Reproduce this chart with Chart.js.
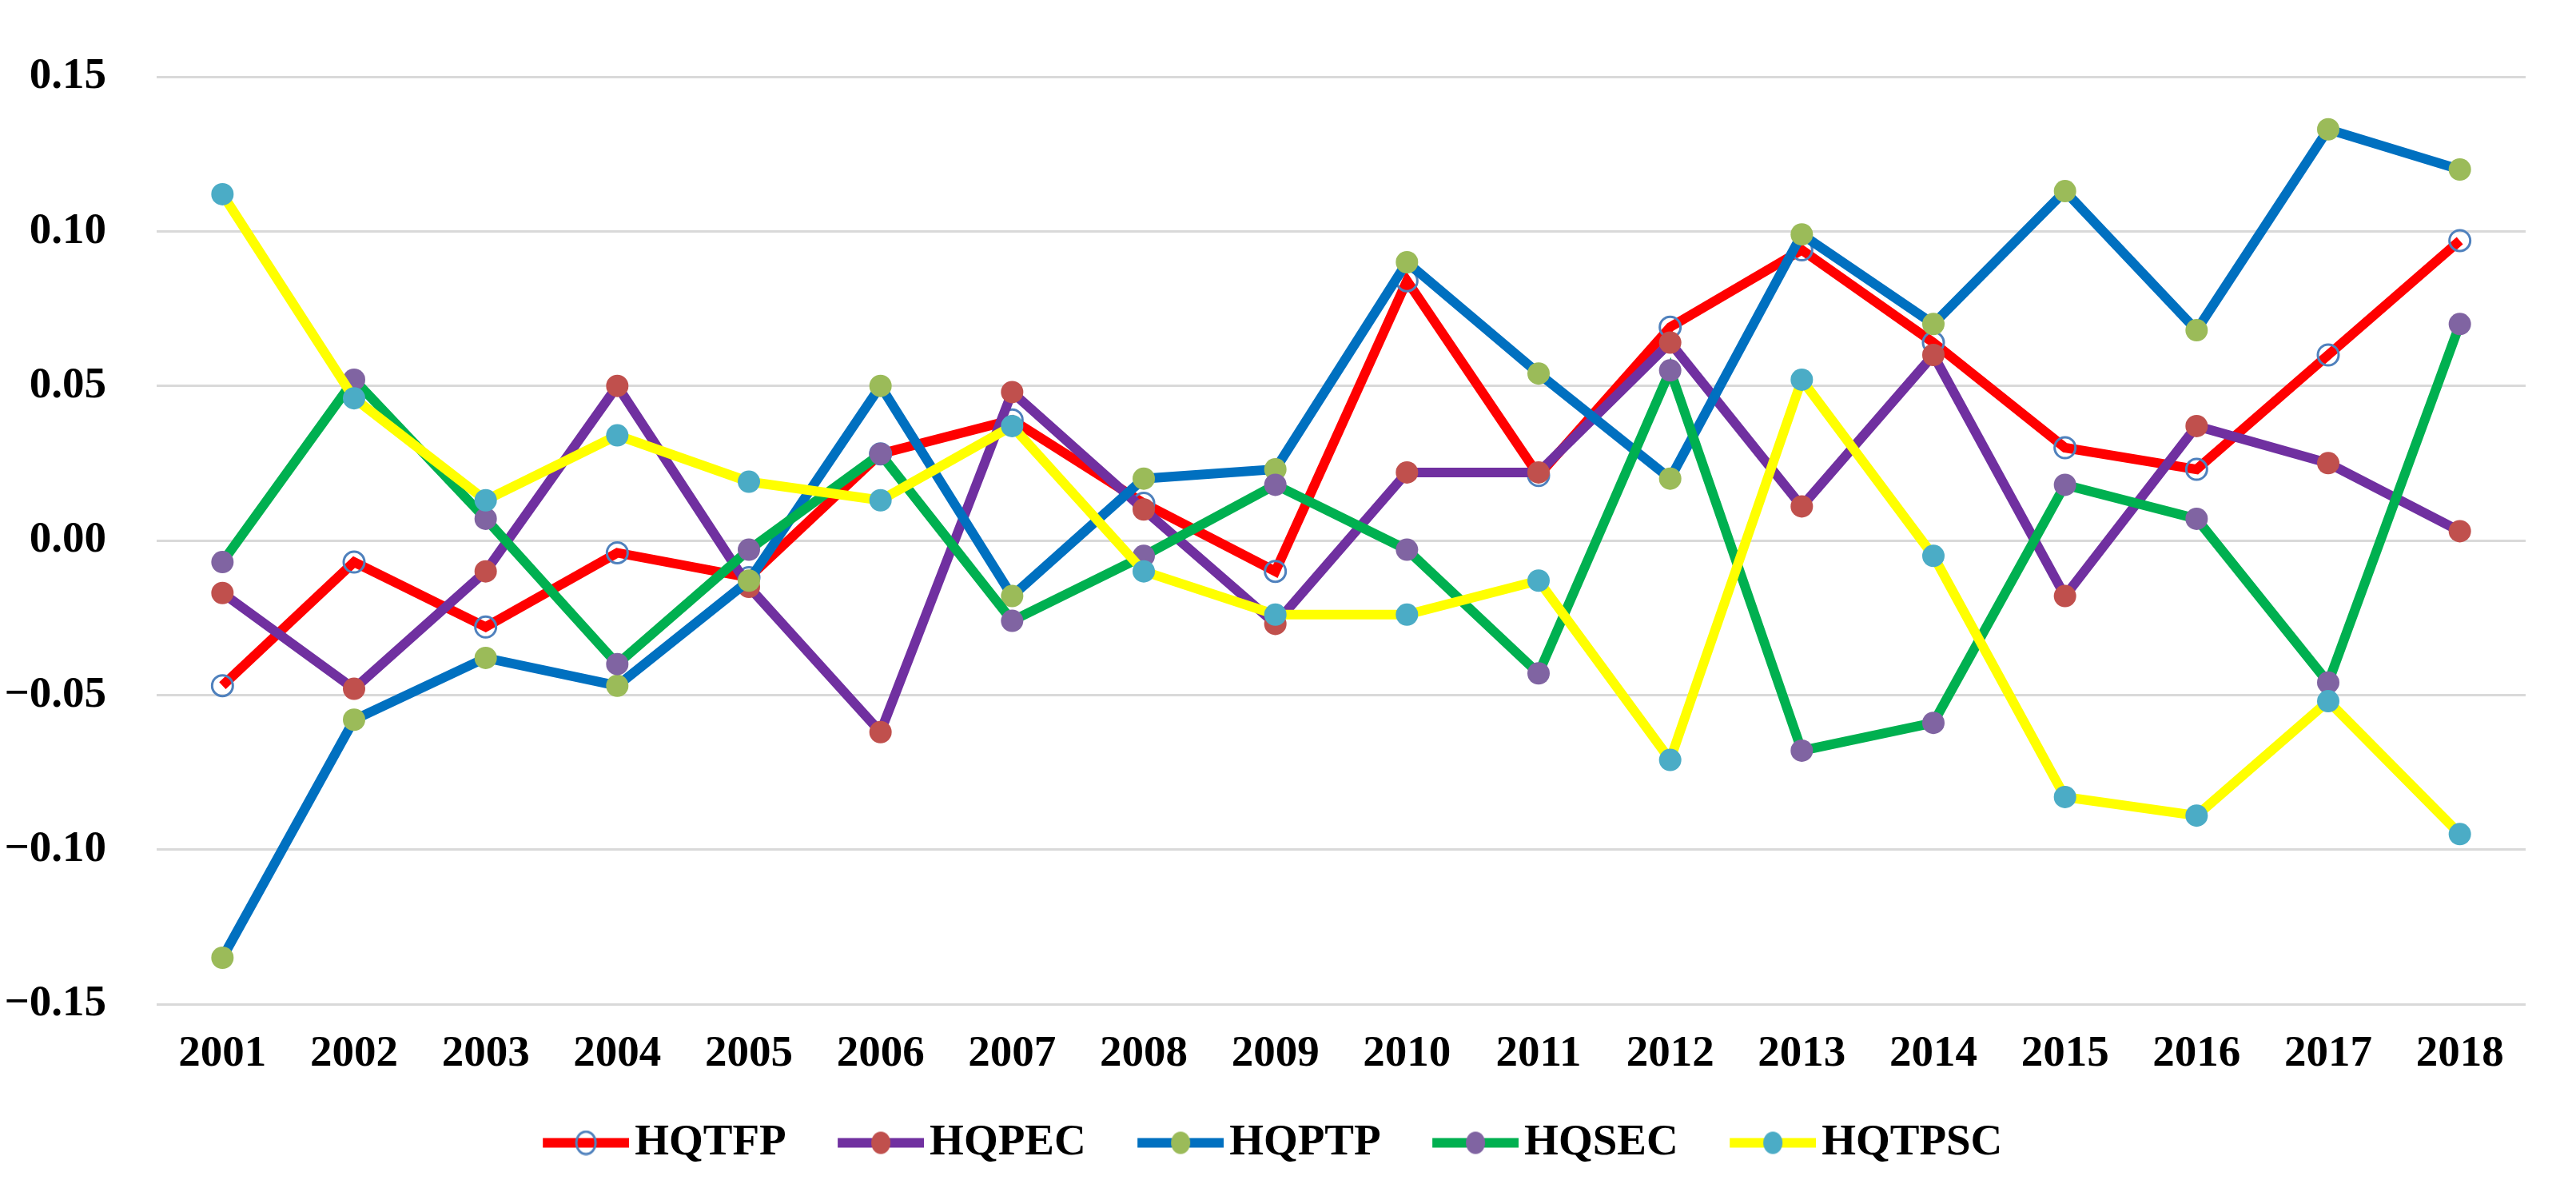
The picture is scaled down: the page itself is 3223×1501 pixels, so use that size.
<!DOCTYPE html>
<html>
<head>
<meta charset="utf-8">
<title>HQ indices 2001-2018</title>
<script src="https://cdn.jsdelivr.net/npm/chart.js@4/dist/chart.umd.min.js"></script>
<style>
  html, body { margin: 0; padding: 0; background: #fff; }
  #hq-wrap { width: 3223px; height: 1501px; }
</style>
</head>
<body>
<div id="hq-wrap"><canvas id="hq-chart" width="3223" height="1501"></canvas></div>
<script>
// Values
const YEARS = ['2001', '2002', '2003', '2004', '2005', '2006', '2007', '2008', '2009',
  '2010', '2011', '2012', '2013', '2014', '2015', '2016', '2017', '2018'];
const HQTFP = [-0.047, -0.007, -0.028, -0.004, -0.012, 0.028, 0.039, 0.012, -0.010,
  0.084, 0.021, 0.069, 0.094, 0.064, 0.030, 0.023, 0.060, 0.097];
const HQPEC = [-0.017, -0.048, -0.010, 0.050, -0.015, -0.062, 0.048, 0.010, -0.027,
  0.022, 0.022, 0.064, 0.011, 0.060, -0.018, 0.037, 0.025, 0.003];
const HQPTP = [-0.135, -0.058, -0.038, -0.047, -0.013, 0.050, -0.018, 0.020, 0.023,
  0.090, 0.054, 0.020, 0.099, 0.070, 0.113, 0.068, 0.133, 0.120];
const HQSEC = [-0.007, 0.052, 0.007, -0.040, -0.003, 0.028, -0.026, -0.005, 0.018,
  -0.003, -0.043, 0.055, -0.068, -0.059, 0.018, 0.007, -0.046, 0.070];
const HQTPSC = [0.112, 0.046, 0.013, 0.034, 0.019, 0.013, 0.037, -0.010, -0.024,
  -0.024, -0.013, -0.071, 0.052, -0.005, -0.083, -0.089, -0.052, -0.095];
const Y_TICKS = [-0.15, -0.10, -0.05, 0.00, 0.05, 0.10, 0.15];

(function () {
  'use strict';

  const FONT = { family: "'Liberation Serif', 'Times New Roman', serif", size: 55, weight: 'bold' };

  const SERIES = [
    { label: 'HQTFP', data: HQTFP, line: '#FF0000', marker: '#4F81BD', open: true },
    { label: 'HQPEC', data: HQPEC, line: '#7030A0', marker: '#C0504D' },
    { label: 'HQPTP', data: HQPTP, line: '#0070C0', marker: '#9BBB59' },
    { label: 'HQSEC', data: HQSEC, line: '#00B050', marker: '#8064A2' },
    { label: 'HQTPSC', data: HQTPSC, line: '#FFFF00', marker: '#4BACC6' },
  ];

  // legend picture: line + marker sitting in the right part of the canvas,
  // so it ends just before the label text
  const ICON_W = 153;
  const BOX_W = 112;
  function legendIcon(s) {
    const c = document.createElement('canvas');
    c.width = ICON_W;
    c.height = 32;
    const g = c.getContext('2d');
    const x0 = ICON_W - 108;
    g.fillStyle = s.line;
    g.fillRect(x0, 10, 108, 12);
    g.beginPath();
    g.ellipse(x0 + 54, 16, 12, 14, 0, 0, Math.PI * 2);
    if (s.open) {
      g.lineWidth = 3;
      g.strokeStyle = s.marker;
      g.stroke();
    } else {
      g.fillStyle = s.marker;
      g.fill();
    }
    return c;
  }

  const datasets = SERIES.map(function (s, i) {
    return {
      label: s.label,
      data: s.data,
      borderColor: s.line,
      backgroundColor: s.line,
      borderWidth: 12,
      tension: 0,
      fill: false,
      order: SERIES.length - i, // later series drawn on top, like the original
      pointRadius: s.open ? 13 : 14,
      pointHoverRadius: s.open ? 13 : 14,
      pointBackgroundColor: s.open ? 'rgba(0,0,0,0)' : s.marker,
      pointBorderColor: s.marker,
      pointBorderWidth: s.open ? 3 : 0,
    };
  });

  const icons = SERIES.map(legendIcon);

  new Chart(document.getElementById('hq-chart'), {
    type: 'line',
    data: { labels: YEARS, datasets: datasets },
    options: {
      responsive: false,
      devicePixelRatio: 1,
      animation: false,
      layout: { padding: { top: 88, right: 63, bottom: 34, left: 0 } },
      plugins: {
        tooltip: { enabled: false },
        legend: {
          position: 'bottom',
          labels: {
            usePointStyle: true,
            pointStyleWidth: BOX_W,
            padding: 40,
            color: '#000',
            font: FONT,
            generateLabels: function (chart) {
              return chart.data.datasets.map(function (ds, i) {
                return {
                  text: ds.label,
                  pointStyle: icons[i],
                  fillStyle: ds.borderColor,
                  strokeStyle: ds.borderColor,
                  lineWidth: 0,
                  fontColor: '#000',
                  hidden: false,
                  datasetIndex: i,
                };
              });
            },
          },
        },
      },
      scales: {
        x: {
          offset: true,
          grid: { display: false, drawTicks: false },
          border: { display: false },
          ticks: { color: '#000', font: FONT, padding: 30, maxRotation: 0, autoSkip: false },
          afterFit: function (scale) { scale.height = 106; },
        },
        y: {
          min: -0.15,
          max: 0.15,
          afterBuildTicks: function (scale) {
            scale.ticks = Y_TICKS.map(function (v) { return { value: v }; });
          },
          afterFit: function (scale) { scale.width = 196; },
          grid: { color: '#D9D9D9', lineWidth: 3, drawTicks: false },
          border: { display: false },
          ticks: {
            color: '#000',
            font: FONT,
            padding: 63,
            callback: function (v) {
              return (v < 0 ? '\u2212' : '') + Math.abs(v).toFixed(2);
            },
          },
        },
      },
    },
  });
})();
</script>
</body>
</html>
